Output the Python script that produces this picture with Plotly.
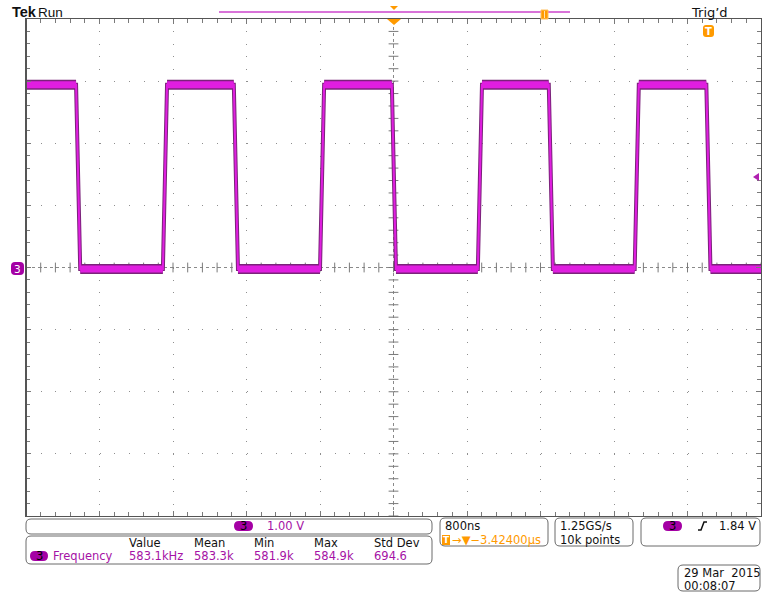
import plotly.graph_objects as go
import numpy as np

# ---- canvas / graticule geometry -------------------------------------------
W, H = 762, 592
L, R, T, B = 26, 1, 19, 76
PW = W - L - R
PH = H - T - B

TIME_PER_DIV = 0.8     # µs  (800 ns/div)
VOLTS_PER_DIV = 1.0    # V   (CH3 1.00 V/div)
H_DIVS, V_DIVS = 10, 8

# ---- channel 3 square wave (edge times in µs from screen centre) ----------
fall_us = [-3.455, -1.738, -0.018, 1.690, 3.405]
rise_us = [-2.510, -0.800, 0.918, 2.625]
edge_us = 0.045
high_v = 2.94
low_v = -0.025

# ---- readouts ---------------------------------------------------------------
meas_headers = ["Value", "Mean", "Min", "Max", "Std Dev"]
meas_values = ["583.1kHz", "583.3k", "581.9k", "584.9k", "694.6"]
meas_x = [127, 192, 252, 312, 372]

MAG = "#e01ee0"
MAG_DARK = "#7a237a"
MAG_TXT = "#a512a5"
BADGE = "#a400a4"
ORANGE = "#ff9a00"
TXT = "#111111"
FONT = "DejaVu Sans"
TICK = "#7a7a7a"

x_min, x_max = -H_DIVS / 2 * TIME_PER_DIV, H_DIVS / 2 * TIME_PER_DIV
y_min, y_max = -V_DIVS / 2 * VOLTS_PER_DIV, V_DIVS / 2 * VOLTS_PER_DIV

# build the trace polyline and its flat (noisy band) segments
events = sorted([(t, "f") for t in fall_us] + [(t, "r") for t in rise_us])
level = high_v if events[0][1] == "f" else low_v
wx, wy = [x_min], [level]
bx, by = [], []
seg_start = x_min
for t, kind in events:
    bx += [seg_start, t, None]
    by += [level, level, None]
    new_level = low_v if kind == "f" else high_v
    wx += [t, t + edge_us]
    wy += [level, new_level]
    level = new_level
    seg_start = t + edge_us
wx.append(x_max)
wy.append(level)
bx += [seg_start, x_max]
by += [level, level]


def fx(px):
    return (px - L) / PW


def fy(py):
    return (H - B - py) / PH


def rrect(x0, y0, x1, y1, r):
    return (f"M {fx(x0 + r)},{fy(y0)} L {fx(x1 - r)},{fy(y0)} "
            f"Q {fx(x1)},{fy(y0)} {fx(x1)},{fy(y0 + r)} "
            f"L {fx(x1)},{fy(y1 - r)} Q {fx(x1)},{fy(y1)} {fx(x1 - r)},{fy(y1)} "
            f"L {fx(x0 + r)},{fy(y1)} Q {fx(x0)},{fy(y1)} {fx(x0)},{fy(y1 - r)} "
            f"L {fx(x0)},{fy(y0 + r)} Q {fx(x0)},{fy(y0)} {fx(x0 + r)},{fy(y0)} Z")


def poly(points):
    return "M " + " L ".join(f"{fx(a)},{fy(b)}" for a, b in points) + " Z"


fig = go.Figure()

# centre cross-hair ticks
sub_x = np.arange(x_min, x_max + 1e-9, TIME_PER_DIV / 5)
sub_y = np.arange(y_min, y_max + 1e-9, VOLTS_PER_DIV / 5)
fig.add_trace(go.Scatter(x=sub_x, y=np.zeros_like(sub_x), mode="markers",
                         marker=dict(symbol="line-ns-open", size=7, color=TICK,
                                     line=dict(color=TICK, width=1)),
                         hoverinfo="skip", showlegend=False))
fig.add_trace(go.Scatter(x=np.zeros_like(sub_y), y=sub_y, mode="markers",
                         marker=dict(symbol="line-ew-open", size=7, color=TICK,
                                     line=dict(color=TICK, width=1)),
                         hoverinfo="skip", showlegend=False))

# waveform
fig.add_trace(go.Scatter(x=wx, y=wy, mode="lines",
                         line=dict(color=MAG_DARK, width=4),
                         hoverinfo="skip", showlegend=False))
fig.add_trace(go.Scatter(x=bx, y=by, mode="lines",
                         line=dict(color=MAG_DARK, width=10),
                         hoverinfo="skip", showlegend=False))
fig.add_trace(go.Scatter(x=bx, y=by, mode="lines",
                         line=dict(color=MAG, width=7),
                         hoverinfo="skip", showlegend=False))
fig.add_trace(go.Scatter(x=wx, y=wy, mode="lines",
                         line=dict(color=MAG, width=2),
                         hoverinfo="skip", showlegend=False))

shapes = []
# dotted centre lines
shapes.append(dict(type="line", xref="x", yref="paper", x0=0, x1=0, y0=0, y1=1,
                   line=dict(color="#8a8a8a", width=1, dash="dot"), layer="below"))
shapes.append(dict(type="line", xref="paper", yref="y", x0=0, x1=1, y0=0, y1=0,
                   line=dict(color="#8a8a8a", width=1, dash="dot"), layer="below"))
# left frame edge
shapes.append(dict(type="line", xref="paper", yref="paper", x0=0, x1=0, y0=0, y1=1,
                   line=dict(color="#555555", width=2)))

# record-view bar with markers
shapes.append(dict(type="line", xref="paper", yref="paper",
                   x0=fx(219), x1=fx(570), y0=fy(12), y1=fy(12),
                   line=dict(color="#cc44cc", width=1.5)))
shapes.append(dict(type="path", xref="paper", yref="paper",
                   path=poly([(390, 6), (398, 6), (394, 10)]),
                   fillcolor=ORANGE, line=dict(width=0)))
shapes.append(dict(type="path", xref="paper", yref="paper",
                   path=poly([(387, 19), (401, 19), (394, 25)]),
                   fillcolor=ORANGE, line=dict(width=0)))
shapes.append(dict(type="rect", xref="paper", yref="paper",
                   x0=fx(541), x1=fx(548), y0=fy(19), y1=fy(10),
                   fillcolor=ORANGE, line=dict(color="#ffc060", width=1)))
shapes.append(dict(type="line", xref="paper", yref="paper",
                   x0=fx(544.5), x1=fx(544.5), y0=fy(18), y1=fy(11),
                   line=dict(color="#ffe0b0", width=1)))

# trigger position badge
shapes.append(dict(type="path", xref="paper", yref="paper",
                   path=rrect(703, 25, 714, 37, 3), fillcolor=ORANGE,
                   line=dict(width=0)))
# trigger level arrow on the right edge
shapes.append(dict(type="path", xref="paper", yref="paper",
                   path=poly([(753, 177), (759, 173), (759, 181)]),
                   fillcolor="#b020b0", line=dict(width=0)))

# channel ground badge on the left
shapes.append(dict(type="path", xref="paper", yref="paper",
                   path=rrect(11, 262, 24, 275, 4), fillcolor=BADGE,
                   line=dict(width=0)))

# readout boxes
box_line = dict(color="#6a6a6a", width=1)
for (x0, y0, x1, y1) in [(26, 519, 432, 534), (26, 536, 432, 564),
                         (440, 518, 548, 546), (555, 518, 633, 546),
                         (641, 518, 760, 546), (678, 565, 760, 591)]:
    shapes.append(dict(type="path", xref="paper", yref="paper",
                       path=rrect(x0, y0, x1, y1, 5), line=box_line,
                       fillcolor="white", layer="below"))

# channel badges in readouts
for (x0, y0, x1, y1) in [(234, 521, 253, 531), (30, 551, 48, 561), (663, 521, 682, 531)]:
    shapes.append(dict(type="path", xref="paper", yref="paper",
                       path=rrect(x0, y0, x1, y1, 5), fillcolor=BADGE,
                       line=dict(width=0)))
# trigger offset badge
shapes.append(dict(type="rect", xref="paper", yref="paper",
                   x0=fx(442), x1=fx(450), y0=fy(545), y1=fy(535),
                   fillcolor=ORANGE, line=dict(width=0)))
# rising-slope glyph
shapes.append(dict(type="path", xref="paper", yref="paper",
                   path=f"M {fx(698)},{fy(530)} L {fx(701)},{fy(530)} "
                        f"L {fx(704)},{fy(522)} L {fx(707)},{fy(522)}",
                   line=dict(color=TXT, width=1.5)))

ann = []


def txt(s, px, py, color=TXT, size=11.5, anchor="left", bold=False, family=FONT):
    ann.append(dict(text=f"<b>{s}</b>" if bold else s, x=fx(px), y=fy(py),
                    xref="paper", yref="paper", xanchor=anchor, yanchor="middle",
                    showarrow=False, font=dict(family=family, size=size, color=color)))


txt("Tek", 10, 12, size=14.5, bold=True, family="Liberation Sans")
txt("Run", 36, 12, size=13.5, family="Liberation Sans")
txt("Trig’d", 689, 12, size=13)
txt("T", 708.5, 31, color="white", size=10, anchor="center", bold=True)
txt("3", 17.5, 268.5, color="white", size=10.5, anchor="center")

txt("3", 243.5, 526, color="#000000", size=11.5, anchor="center")
txt("1.00 V", 265, 526, color=MAG_TXT)
for h, v, x in zip(meas_headers, meas_values, meas_x):
    txt(h, x, 543)
    txt(v, x, 556, color=MAG_TXT)
txt("3", 39, 556, color="#000000", size=11.5, anchor="center")
txt("Frequency", 51, 556, color=MAG_TXT)

txt("800ns", 443, 526)
txt("T", 446, 540, color="white", size=9, anchor="center", bold=True)
txt("→▼−3.42400µs", 450, 540, color=ORANGE, size=11.5)
txt("1.25GS/s", 558, 526)
txt("10k points", 558, 540)
txt("3", 672.5, 526, color="#000000", size=11.5, anchor="center")
txt("1.84 V", 717, 526)
txt("29 Mar  2015", 682, 573)
txt("00:08:07", 682, 586)

axis_common = dict(showline=True, linecolor="#555555", linewidth=1, mirror="ticks",
                   ticks="inside", ticklen=5, tickcolor=TICK,
                   showticklabels=False, zeroline=False, showgrid=True,
                   gridcolor="#8f8f8f", gridwidth=1, fixedrange=True)

fig.update_layout(
    width=W, height=H,
    margin=dict(l=L, r=R, t=T, b=B, pad=0),
    paper_bgcolor="white", plot_bgcolor="white",
    showlegend=False,
    xaxis=dict(range=[x_min, x_max], dtick=TIME_PER_DIV, tick0=0,
               griddash="1px,11.425px",
               minor=dict(dtick=TIME_PER_DIV / 5, ticks="inside", ticklen=4,
                          tickcolor=TICK, showgrid=False),
               **axis_common),
    yaxis=dict(range=[y_min, y_max], dtick=VOLTS_PER_DIV, tick0=0,
               griddash="1px,13.7px",
               minor=dict(dtick=VOLTS_PER_DIV / 5, ticks="inside", ticklen=4,
                          tickcolor=TICK, showgrid=False),
               **axis_common),
    shapes=shapes,
    annotations=ann,
)

fig.write_html("out.html")
